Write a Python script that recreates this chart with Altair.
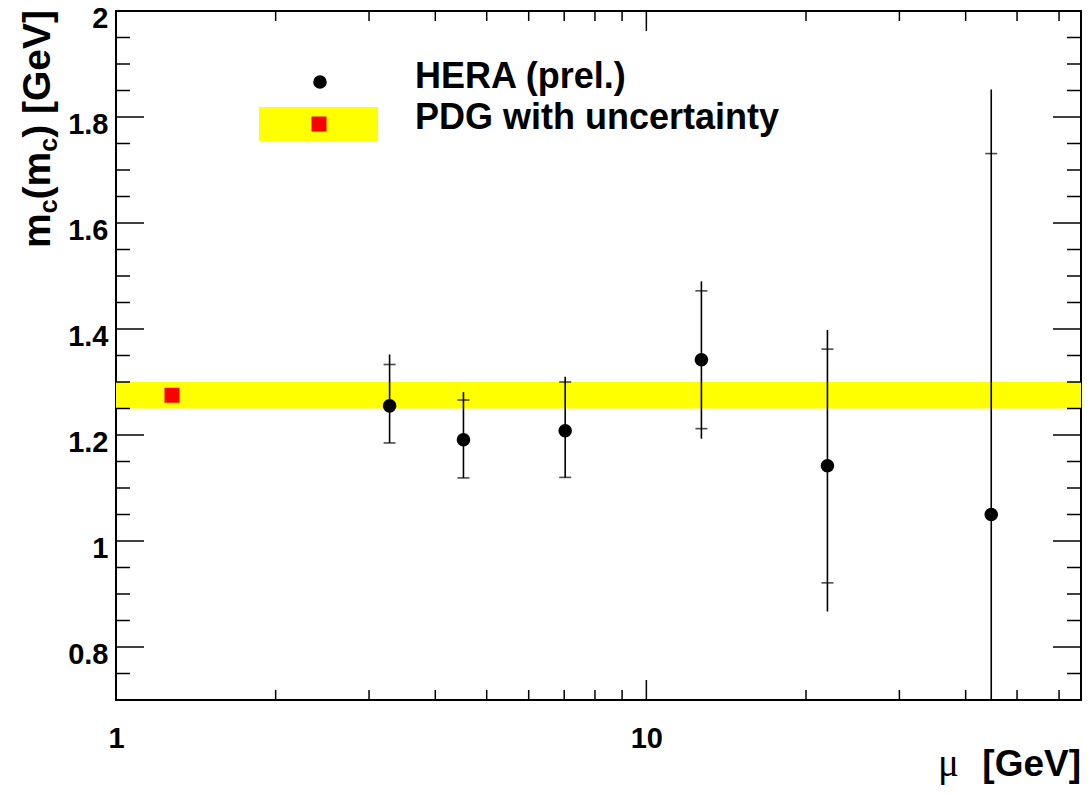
import altair as alt
import pandas as pd

# ---------------- data ----------------
mu = [3.28, 4.52, 7.03, 12.7, 21.95, 44.7]
mc = [1.255, 1.191, 1.208, 1.342, 1.142, 1.050]
exp_hi = [1.333, 1.266, 1.300, 1.472, 1.362, 1.731]
exp_lo = [1.185, 1.119, 1.120, 1.212, 0.921, 0.370]
tot_hi = [1.352, 1.281, 1.310, 1.490, 1.398, 1.852]
tot_lo = [1.185, 1.119, 1.120, 1.193, 0.867, 0.250]

pdg_mu = [1.275]
pdg_mc = [1.275]
pdg_lo = [1.25]
pdg_hi = [1.30]

x_major = [1, 10]
x_minor = [2, 3, 4, 5, 6, 7, 8, 9, 20, 30, 40, 50, 60]
y_major = [0.8, 1.0, 1.2, 1.4, 1.6, 1.8, 2.0]
y_minor = [0.7, 0.75, 0.85, 0.9, 0.95, 1.05, 1.1, 1.15, 1.25, 1.3, 1.35,
           1.45, 1.5, 1.55, 1.65, 1.7, 1.75, 1.85, 1.9, 1.95]

legend_labels = ["HERA (prel.)", "PDG with uncertainty"]

# ---------------- layout ----------------
W, H = 965, 689
FONT = "Liberation Sans"

hera = pd.DataFrame({"mu": mu, "mc": mc, "elo": exp_lo, "ehi": exp_hi,
                     "tlo": tot_lo, "thi": tot_hi})
pdg = pd.DataFrame({"mu": pdg_mu, "mc": pdg_mc, "lo": pdg_lo, "hi": pdg_hi})

xs = alt.Scale(type="log", domain=[1, 66], nice=False)
ys = alt.Scale(domain=[0.7, 2.0], nice=False, zero=False)

xaxis = alt.Axis(values=x_major, format="~g", ticks=False, tickSize=0, domain=False,
                 grid=False, labelFont=FONT, labelFontWeight="bold", labelFontSize=29,
                 labelColor="black", labelPadding=47, labelBaseline="alphabetic",
                 labelFlush=False, labelOverlap=False, title=None)
yaxis = alt.Axis(values=y_major, format="~g", ticks=False, tickSize=0, domain=False,
                 grid=False, labelFont=FONT, labelFontWeight="bold", labelFontSize=29,
                 labelColor="black", labelPadding=8, labelOffset=7, labelBaseline="middle",
                 labelFlush=False, labelOverlap=False, title=None)


def X(f):
    return alt.X(f, type="quantitative", scale=xs, axis=xaxis)


def Y(f):
    return alt.Y(f, type="quantitative", scale=ys, axis=yaxis)


# PDG band across the full width
band = alt.Chart(pdg).mark_rect(color="#ffff00").encode(
    x=alt.value(0), x2=alt.value(W), y=Y("lo"), y2=alt.Y2("hi"))


# inward ticks (ROOT style), on all four sides
def xticks(vals, length):
    d = pd.DataFrame({"v": vals})
    bot = alt.Chart(d).mark_rule(color="black", strokeWidth=1.5).encode(
        x=X("v"), y=alt.value(H), y2=alt.value(H - length))
    top = alt.Chart(d).mark_rule(color="black", strokeWidth=1.5).encode(
        x=X("v"), y=alt.value(0), y2=alt.value(length))
    return [bot, top]


def yticks(vals, length):
    d = pd.DataFrame({"v": vals})
    left = alt.Chart(d).mark_rule(color="black", strokeWidth=1.5).encode(
        y=Y("v"), x=alt.value(0), x2=alt.value(length))
    right = alt.Chart(d).mark_rule(color="black", strokeWidth=1.5).encode(
        y=Y("v"), x=alt.value(W), x2=alt.value(W - length))
    return [left, right]


ticks = xticks(x_major, 20) + xticks(x_minor, 10) + yticks(y_major, 28) + yticks(y_minor, 14)

pdg_pt = alt.Chart(pdg).mark_square(color="#ff0000", size=225, opacity=1).encode(
    x=X("mu"), y=Y("mc"))

err = alt.Chart(hera).mark_rule(color="black", strokeWidth=1.6, clip=True).encode(
    x=X("mu"), y=Y("tlo"), y2=alt.Y2("thi"))
cap_hi = alt.Chart(hera).mark_tick(color="black", orient="horizontal", size=12,
                                   thickness=1.6, clip=True).encode(x=X("mu"), y=Y("ehi"))
cap_lo = alt.Chart(hera).mark_tick(color="black", orient="horizontal", size=12,
                                   thickness=1.6, clip=True).encode(x=X("mu"), y=Y("elo"))
pts = alt.Chart(hera).mark_circle(color="black", size=185, opacity=1).encode(
    x=X("mu"), y=Y("mc"))

# ---------------- legend ----------------
one = pd.DataFrame({"k": [0]})
leg_rect = alt.Chart(one).mark_rect(color="#ffff00").encode(
    x=alt.value(143), x2=alt.value(262), y=alt.value(96), y2=alt.value(130))
leg_sq = alt.Chart(one).mark_square(color="#ff0000", size=225, opacity=1).encode(
    x=alt.value(203), y=alt.value(113))
leg_circ = alt.Chart(one).mark_circle(color="black", size=185, opacity=1).encode(
    x=alt.value(204), y=alt.value(71))


def txt(s, x, y, size, align="left", angle=0, font=FONT, weight="bold"):
    return alt.Chart(pd.DataFrame({"t": [s]})).mark_text(
        align=align, baseline="alphabetic", angle=angle, font=font,
        fontWeight=weight, fontSize=size, color="black").encode(
        x=alt.value(x), y=alt.value(y), text="t:N")


leg_t1 = txt(legend_labels[0], 299, 77, 36)
leg_t2 = txt(legend_labels[1], 299, 118, 36)

# ---------------- axis titles ----------------
yt = [
    txt("m", -66, 237, 39, angle=270),
    txt("c", -59, 202.3, 25, angle=270),
    txt("(m", -66, 188.4, 39, angle=270),
    txt("c", -59, 140.7, 25, angle=270),
    txt(") [GeV]", -66, 126.8, 39, angle=270),
]
xt = [
    txt("[GeV]", W, 765, 37, align="right"),
    txt("\u03bc", 843, 765, 39, align="right", font="Liberation Serif", weight="normal"),
]

chart = alt.layer(
    band, *ticks, pdg_pt, err, cap_hi, cap_lo, pts,
    leg_rect, leg_sq, leg_circ, leg_t1, leg_t2, *yt, *xt
).properties(
    width=W, height=H,
    autosize=alt.AutoSizeParams(type="none"),
    padding={"left": 108, "top": 3, "right": 1, "bottom": 85},
    background="white",
).configure_view(stroke="black", strokeWidth=2)

chart.save("out.html", embed_options={"renderer": "svg", "actions": False})
